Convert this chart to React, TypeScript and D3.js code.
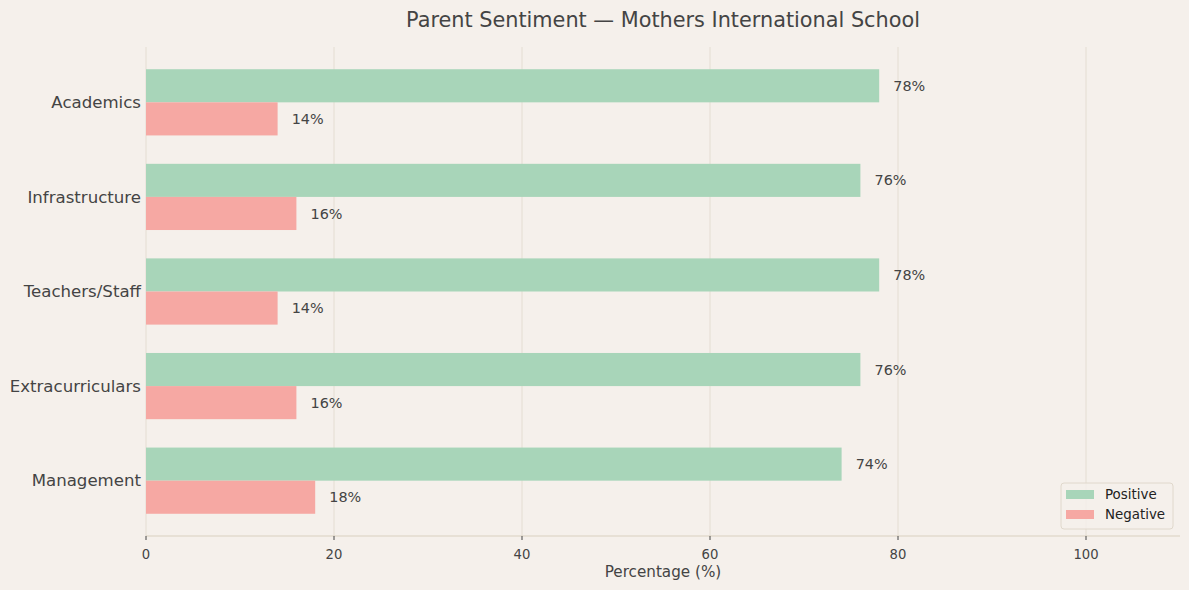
import * as d3 from "d3";

const WIDTH = 1189;
const HEIGHT = 590;

const categories = ["Academics", "Infrastructure", "Teachers/Staff", "Extracurriculars", "Management"];
const positive = [78, 76, 78, 76, 74];
const negative = [14, 16, 14, 16, 18];
const xTicks = [0, 20, 40, 60, 80, 100];

const margin = { top: 47, right: 9, bottom: 54, left: 146 };
const BAR = 0.35;
const TEXT = "#444444";

const x = d3.scaleLinear().domain([0, 110]).range([margin.left, WIDTH - margin.right]);
const y = d3
  .scaleLinear()
  .domain([-0.5 - 0.085, categories.length - 0.5 + 0.085])
  .range([margin.top, HEIGHT - margin.bottom]);

const font = "'DejaVu Sans', sans-serif";

export default function App() {
  const bottom = HEIGHT - margin.bottom;
  return (
    <svg
      width={WIDTH}
      height={HEIGHT}
      style={{ position: "absolute", left: 0, top: 0, display: "block", fontFamily: font }}
    >
      <rect width={WIDTH} height={HEIGHT} fill="#f5f0eb" />
      {/* grid */}
      {xTicks.map((t) => (
        <line key={t} x1={x(t)} x2={x(t)} y1={margin.top} y2={bottom} stroke="#e4ddd2" strokeWidth={1} />
      ))}
      {/* bars */}
      {categories.map((c, i) => (
        <g key={c}>
          <rect x={x(0)} y={y(i - BAR)} width={x(positive[i]) - x(0)} height={y(i) - y(i - BAR)} fill="#a8d5b9" />
          <rect x={x(0)} y={y(i)} width={x(negative[i]) - x(0)} height={y(i + BAR) - y(i)} fill="#f6a8a3" />
          <text x={x(positive[i] + 1.5)} y={y(i - BAR / 2)} dy="0.35em" fontSize={14.4} fill={TEXT}>
            {positive[i]}%
          </text>
          <text x={x(negative[i] + 1.5)} y={y(i + BAR / 2)} dy="0.35em" fontSize={14.4} fill={TEXT}>
            {negative[i]}%
          </text>
          <text x={x(0) - 5} y={y(i)} dy="0.35em" textAnchor="end" fontSize={16.6} fill={TEXT}>
            {c}
          </text>
        </g>
      ))}
      {/* x axis */}
      <line x1={margin.left} x2={WIDTH - margin.right} y1={bottom} y2={bottom} stroke="#d9cfbf" strokeWidth={1.2} />
      {xTicks.map((t) => (
        <g key={t} transform={`translate(${x(t)},${bottom})`}>
          <line y2={4} stroke={TEXT} strokeWidth={1} />
          <text y={18} dy="0.35em" textAnchor="middle" fontSize={13.2} fill={TEXT}>
            {t}
          </text>
        </g>
      ))}
      <text x={(margin.left + WIDTH - margin.right) / 2} y={572} dy="0.35em" textAnchor="middle" fontSize={15.2} fill={TEXT}>
        Percentage (%)
      </text>
      <text x={(margin.left + WIDTH - margin.right) / 2} y={20} dy="0.35em" textAnchor="middle" fontSize={20.8} fill={TEXT}>
        Parent Sentiment — Mothers International School
      </text>
      {/* legend */}
      <g transform="translate(1061,483)">
        <rect width={112} height={46} rx={3} fill="#f5f0eb" fillOpacity={0.8} stroke="#e0d8cc" strokeWidth={1} />
        <rect x={5} y={7} width={28} height={9} fill="#a8d5b9" />
        <rect x={5} y={27} width={28} height={9} fill="#f6a8a3" />
        <text x={44} y={11.5} dy="0.35em" fontSize={13.4} fill="#222">Positive</text>
        <text x={44} y={31.5} dy="0.35em" fontSize={13.4} fill="#222">Negative</text>
      </g>
    </svg>
  );
}
